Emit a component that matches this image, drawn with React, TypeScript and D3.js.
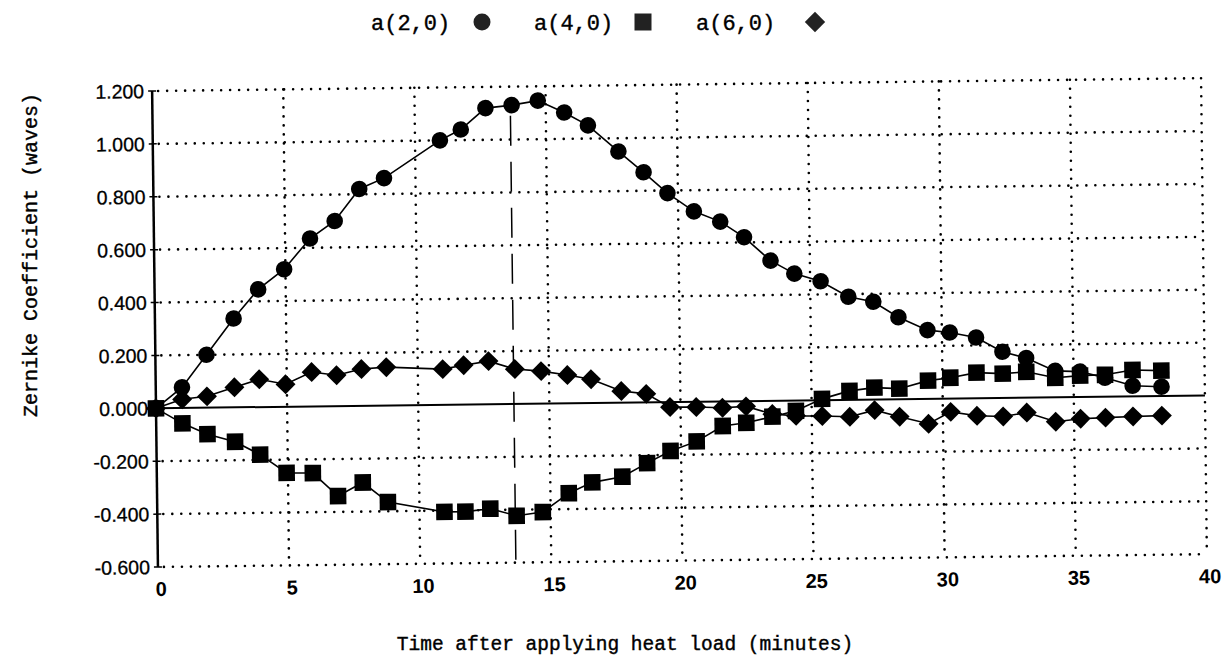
import React from 'react';
import * as d3 from 'd3';

// minutes after heat load (shared by all three series)
const times = [0, 1.0, 1.95, 3.0, 3.95, 4.95, 5.95, 6.9, 7.85, 8.8, 10.95, 11.75, 12.7, 13.7, 14.7, 15.7, 16.6, 17.75, 18.7, 19.6,
  20.6, 21.6, 22.5, 23.5, 24.4, 25.4, 26.45, 27.4, 28.35, 29.45, 30.3, 31.3, 32.3, 33.2, 34.3, 35.25, 36.2, 37.25, 38.35];

const a20 = [0, 0.078, 0.2, 0.336, 0.445, 0.52, 0.635, 0.7, 0.82, 0.86, 1.0, 1.04, 1.12, 1.13, 1.146, 1.1, 1.05, 0.95, 0.87, 0.79,
  0.72, 0.68, 0.62, 0.53, 0.48, 0.45, 0.39, 0.37, 0.31, 0.26, 0.25, 0.23, 0.175, 0.15, 0.1, 0.096, 0.072, 0.04, 0.035];

const a40 = [0, -0.058, -0.1, -0.13, -0.18, -0.25, -0.252, -0.34, -0.29, -0.365, -0.405, -0.405, -0.395, -0.423, -0.41, -0.34, -0.3, -0.28, -0.23, -0.185,
  -0.15, -0.093, -0.082, -0.06, -0.039, 0.005, 0.034, 0.045, 0.04, 0.069, 0.079, 0.097, 0.092, 0.098, 0.074, 0.081, 0.083, 0.1, 0.096];

const a60 = [0, 0.033, 0.043, 0.076, 0.105, 0.085, 0.13, 0.117, 0.139, 0.145, 0.135, 0.149, 0.163, 0.132, 0.123, 0.107, 0.09, 0.044, 0.032, -0.019,
  -0.02, -0.024, -0.02, -0.05, -0.058, -0.06, -0.064, -0.04, -0.066, -0.094, -0.05, -0.066, -0.07, -0.056, -0.092, -0.082, -0.079, -0.076, -0.074];

const xTicks = [0, 5, 10, 15, 20, 25, 30, 35, 40];
const yTicks = [-0.6, -0.4, -0.2, 0, 0.2, 0.4, 0.6, 0.8, 1.0, 1.2];
const markerTime = 13.65; // dashed vertical marker

const legendItems = [
  { label: 'a(2,0)', shape: 'circle', tx: 371, mx: 482 },
  { label: 'a(4,0)', shape: 'square', tx: 534, mx: 643 },
  { label: 'a(6,0)', shape: 'diamond', tx: 696, mx: 815 },
];

const x = d3.scaleLinear().domain([0, 40]).range([156, 1205]);
const y = d3.scaleLinear().domain([-0.6, 1.2]).range([567, 91]);

const Marker = ({ shape, cx, cy, s, fill }: { shape: string; cx: number; cy: number; s: number; fill: string }) => {
  if (shape === 'circle') return <circle cx={cx} cy={cy} r={s} fill={fill} />;
  if (shape === 'square') return <rect x={cx - s} y={cy - s} width={s * 2} height={s * 2} fill={fill} />;
  const d = s * 1.2;
  return <path d={`M${cx},${cy - d}L${cx + d},${cy}L${cx},${cy + d}L${cx - d},${cy}Z`} fill={fill} />;
};

const App = () => {
  const line = d3.line<number>().x((d, i) => x(times[i])).y(d => y(d));
  const series = [
    { vals: a20, shape: 'circle' },
    { vals: a40, shape: 'square' },
    { vals: a60, shape: 'diamond' },
  ];
  const dotted = { stroke: '#000', strokeWidth: 2.6, strokeDasharray: '0 9', strokeLinecap: 'round' as const };
  const mono = '"Liberation Mono", "Courier New", monospace';
  const sans = '"Liberation Sans", Arial, sans-serif';

  return (
    <svg width={1230} height={661} style={{ position: 'absolute', left: 0, top: 0, background: '#fff' }}>
      {/* legend */}
      {legendItems.map(it => (
        <g key={it.label}>
          <text x={it.tx} y={30} fontFamily={mono} fontSize={22} fill="#000" stroke="#000" strokeWidth={0.4}>{it.label}</text>
          <Marker shape={it.shape} cx={it.mx} cy={22} s={8.5} fill="#222" />
        </g>
      ))}

      {/* axis titles */}
      <text transform="translate(37,255) rotate(-90)" textAnchor="middle" fontFamily={mono} fontSize={20} fill="#000" stroke="#000" strokeWidth={0.4}>
        Zernike Coefficient (waves)
      </text>
      <text x={625} y={650} textAnchor="middle" fontFamily={mono} fontSize={19.5} fill="#000" stroke="#000" strokeWidth={0.4}>
        Time after applying heat load (minutes)
      </text>

      {/* plot, scanned slightly tilted */}
      <g transform={`rotate(-0.7, ${x(0)}, ${y(0)})`}>
        {yTicks.filter(t => t !== 0).map(t => (
          <line key={'gy' + t} x1={x(0) + 6} x2={x(40)} y1={y(t)} y2={y(t)} {...dotted} />
        ))}
        {xTicks.filter(t => t !== 0).map(t => (
          <line key={'gx' + t} x1={x(t)} x2={x(t)} y1={y(1.2)} y2={y(-0.6)} {...dotted} />
        ))}
        <line x1={x(0)} x2={x(40)} y1={y(0)} y2={y(0)} stroke="#000" strokeWidth={2} />
        <line x1={x(0)} x2={x(0)} y1={y(1.2)} y2={y(-0.6)} stroke="#000" strokeWidth={2.5} />
        {yTicks.map(t => (
          <g key={'ty' + t}>
            <line x1={x(0) - 4} x2={x(0) + 4} y1={y(t)} y2={y(t)} stroke="#000" strokeWidth={1.5} />
            <text x={x(0) - 8} y={y(t)} dy="0.36em" textAnchor="end" fontFamily={sans} fontSize={19.5} fill="#000" stroke="#000" strokeWidth={0.3}>
              {d3.format('.3f')(t).replace('−', '-')}
            </text>
          </g>
        ))}
        {xTicks.map(t => (
          <text key={'tx' + t} x={x(t) + 3} y={y(-0.6) + 29} textAnchor="middle" fontFamily={sans} fontWeight="bold" fontSize={20} fill="#000">
            {t}
          </text>
        ))}
        <line x1={x(markerTime)} x2={x(markerTime)} y1={y(1.09)} y2={y(-0.6)} stroke="#000" strokeWidth={1.5} strokeDasharray="30 16" />

        {series.map(s => (
          <g key={s.shape}>
            <path d={line(s.vals) || ''} fill="none" stroke="#000" strokeWidth={1.6} />
            {s.vals.map((v, i) => (
              <Marker key={i} shape={s.shape} cx={x(times[i])} cy={y(v)} s={8.3} fill="#000" />
            ))}
          </g>
        ))}
      </g>
    </svg>
  );
};

export default App;
